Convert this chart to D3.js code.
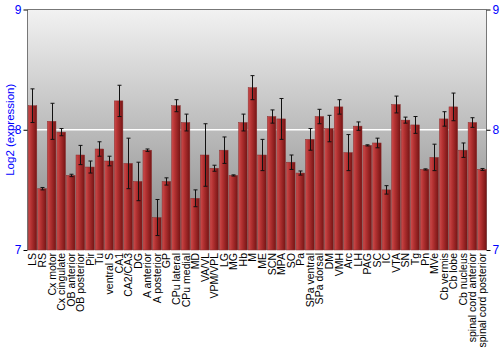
<!DOCTYPE html>
<html>
<head>
<meta charset="utf-8">
<script src="https://cdn.jsdelivr.net/npm/d3@7"></script>
<style>
  body { margin: 0; background: #fff; }
  svg { display: block; font-family: "Liberation Sans", Arial, sans-serif; }
</style>
</head>
<body>
<svg width="500" height="350"></svg>
<script>
const regions = ['LS', 'RS', 'Cx motor', 'Cx cingulate', 'OB anterior', 'OB posterior', 'Pir', 'Tu',
  'ventral S', 'CA1', 'CA2/CA3', 'DG', 'A anterior', 'A posterior', 'GP', 'CPu lateral', 'CPu medial',
  'MD', 'VA/VL', 'VPM/VPL', 'LG', 'MG', 'Hb', 'M', 'ME', 'SCN', 'MPA', 'SO', 'Pa', 'SPa ventral',
  'SPa dorsal', 'DM', 'VMH', 'Arc', 'LH', 'PAG', 'SC', 'IC', 'VTA', 'SN', 'Tg', 'Pn', 'MVe',
  'Cb vermis', 'Cb lobe', 'Cb nucleus', 'spinal cord anterior', 'spinal cord posterior']

const expression = [8.20, 7.51, 8.07, 7.98, 7.62, 7.79, 7.69, 7.84,
  7.74, 8.24, 7.72, 7.57, 7.83, 7.27, 7.57, 8.20, 8.06,
  7.43, 7.79, 7.68, 7.83, 7.62, 8.06, 8.35, 7.79, 8.11, 8.09, 7.73, 7.64, 7.92,
  8.11, 8.01, 8.19, 7.81, 8.03, 7.87, 7.89, 7.50, 8.21, 8.08, 8.04, 7.67, 7.77,
  8.09, 8.19, 7.83, 8.06, 7.67]

const stderr = [0.14, 0.01, 0.15, 0.03, 0.01, 0.08, 0.05, 0.06,
  0.04, 0.13, 0.21, 0.16, 0.01, 0.15, 0.03, 0.05, 0.07,
  0.07, 0.26, 0.025, 0.11, 0.005, 0.07, 0.10, 0.13, 0.055, 0.17, 0.06, 0.017, 0.09,
  0.06, 0.11, 0.06, 0.15, 0.035, 0.005, 0.04, 0.035, 0.07, 0.025, 0.07, 0.005, 0.11,
  0.06, 0.115, 0.06, 0.04, 0.008]

const yTicks = [7, 8, 9]

const svg = d3.select('svg')
const mLeft = 27.5, mRight = 486.5, mTop = 9.5, mBottom = 250

const x = d3.scaleBand().domain(regions).range([mLeft + 0.5, mRight]).paddingInner(0.1).paddingOuter(0.02)
const y = d3.scaleLinear().domain([7, 9]).range([mBottom, mTop])

const defs = svg.append('defs')
const bg = defs.append('linearGradient').attr('id', 'bg').attr('x1', 0).attr('x2', 0).attr('y1', 0).attr('y2', 1)
bg.append('stop').attr('offset', 0).attr('stop-color', '#f2f2f2')
bg.append('stop').attr('offset', 1).attr('stop-color', '#848484')

const barGrad = defs.append('linearGradient').attr('id', 'bar').attr('x1', 0).attr('x2', 1).attr('y1', 0).attr('y2', 0)
barGrad.append('stop').attr('offset', 0).attr('stop-color', '#cc4c4c')
barGrad.append('stop').attr('offset', 0.35).attr('stop-color', '#b43232')
barGrad.append('stop').attr('offset', 1).attr('stop-color', '#761414')

// plot background
svg.append('rect')
  .attr('x', mLeft).attr('y', mTop)
  .attr('width', mRight - mLeft).attr('height', mBottom - mTop)
  .attr('fill', 'url(#bg)')

// grid line at 8
svg.append('line')
  .attr('x1', mLeft).attr('x2', mRight)
  .attr('y1', y(8)).attr('y2', y(8))
  .attr('stroke', '#fff').attr('stroke-width', 1.5)

// frame
svg.append('path')
  .attr('d', `M${mLeft},${mBottom}V${mTop}H${mRight}V${mBottom}`)
  .attr('fill', 'none').attr('stroke', '#777')

// bars
svg.append('g').selectAll('rect')
  .data(regions)
  .join('rect')
  .attr('x', d => x(d))
  .attr('width', x.bandwidth())
  .attr('y', (d, i) => y(expression[i]))
  .attr('height', (d, i) => y(7) - y(expression[i]))
  .attr('fill', 'url(#bar)')
  .attr('stroke', '#8a3030').attr('stroke-width', 0.5)

// error bars
const err = svg.append('g').attr('stroke', '#111').attr('stroke-width', 1)
regions.forEach((d, i) => {
  const cx = Math.round(x(d) + x.bandwidth() / 2) + 0.5
  const y0 = y(expression[i] + stderr[i]), y1 = y(expression[i] - stderr[i])
  err.append('line').attr('x1', cx).attr('x2', cx).attr('y1', y0).attr('y2', y1)
  err.append('line').attr('x1', cx - 2).attr('x2', cx + 2).attr('y1', y0).attr('y2', y0)
  err.append('line').attr('x1', cx - 2).attr('x2', cx + 2).attr('y1', y1).attr('y2', y1)
})

// y axes
const styleAxis = g => {
  g.select('.domain').remove()
  g.selectAll('.tick line').attr('stroke', '#000')
  g.selectAll('.tick text').attr('fill', '#0000ff').attr('font-size', 12)
}
svg.append('g')
  .attr('transform', `translate(${mLeft},0)`)
  .call(d3.axisLeft(y).tickValues(yTicks).tickSize(4).tickPadding(2).tickFormat(d3.format('d')))
  .call(styleAxis)
svg.append('g')
  .attr('transform', `translate(${mRight},0)`)
  .call(d3.axisRight(y).tickValues(yTicks).tickSize(4).tickPadding(2).tickFormat(d3.format('d')))
  .call(styleAxis)

// category labels
svg.append('g').selectAll('text')
  .data(regions)
  .join('text')
  .attr('transform', d => `translate(${x(d) + x.bandwidth() / 2 + 4},${mBottom + 3}) rotate(-90)`)
  .attr('text-anchor', 'end')
  .attr('font-size', 10.5)
  .attr('fill', '#000')
  .text(d => d)

// y label
svg.append('text')
  .attr('transform', `translate(14,${(mTop + mBottom) / 2}) rotate(-90)`)
  .attr('text-anchor', 'middle')
  .attr('font-size', 11.5)
  .attr('fill', '#0000ff')
  .text('Log2 (expression)')
</script>
</body>
</html>
